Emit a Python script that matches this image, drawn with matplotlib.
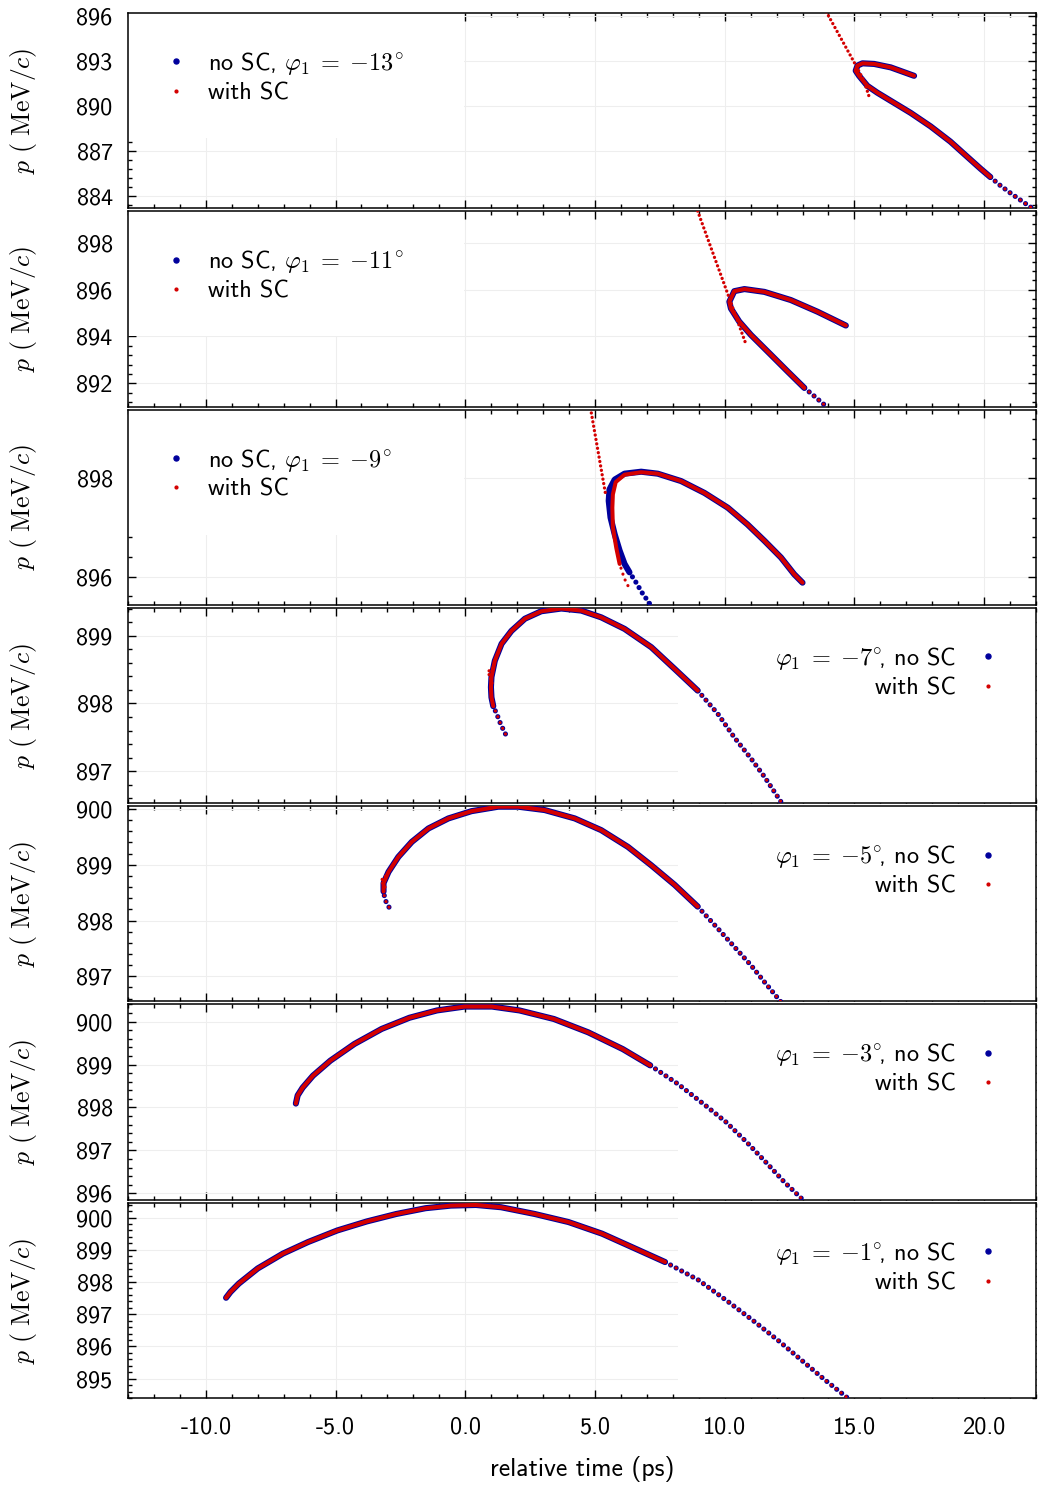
import numpy as np
import matplotlib.pyplot as plt
from matplotlib.ticker import FixedLocator, MultipleLocator, AutoMinorLocator, FormatStrFormatter
from matplotlib.lines import Line2D
from matplotlib.patches import Rectangle

plt.rcParams['font.family'] = 'cmss10'
plt.rcParams['mathtext.fontset'] = 'cm'
plt.rcParams['axes.unicode_minus'] = False
plt.rcParams['axes.formatter.use_mathtext'] = True

## DATA ##
# phase phi_1 (deg) of each run, top to bottom
phases = [-13, -11, -9, -7, -5, -3, -1]

# phi_1 = -13 deg
t_m13 = [17.30, 16.40, 15.76, 15.31, 15.12, 15.05, 15.18, 15.50, 15.88, 16.53, 17.17,
         17.94, 18.70, 19.35, 19.86, 20.24, 20.60, 21.01, 21.53, 21.91]
p_m13 = [892.02, 892.58, 892.81, 892.85, 892.70, 892.36, 892.02, 891.35, 890.90, 890.22, 889.55,
         888.65, 887.64, 886.63, 885.84, 885.28, 884.75, 884.22, 883.59, 883.14]
t_m13_sc_pre = [13.75, 14.99, 15.37, 15.56]
p_m13_sc_pre = [896.80, 892.92, 891.68, 890.67]

# phi_1 = -11 deg
t_m11 = [14.67, 13.58, 12.55, 11.53, 10.76, 10.37, 10.18, 10.24, 10.56, 11.01, 11.78,
         12.42, 13.07, 13.45, 13.90]
p_m11 = [894.47, 895.06, 895.56, 895.91, 896.03, 895.94, 895.49, 895.20, 894.64, 894.07, 893.22,
         892.51, 891.80, 891.45, 891.02]
t_m11_sc_pre = [8.90, 10.05, 10.81]
p_m11_sc_pre = [899.55, 896.03, 893.70]

# phi_1 = -9 deg
t_m9 = [7.10, 7.01, 6.81, 6.59, 6.33, 6.14, 5.95, 5.76, 5.60, 5.53, 5.56, 5.76, 6.14, 6.78,
        7.42, 8.32, 9.22, 10.12, 10.88, 11.53, 12.17, 12.68, 13.00]
p_m9 = [895.46, 895.53, 895.68, 895.88, 896.09, 896.26, 896.53, 896.86, 897.20, 897.54, 897.77,
        897.97, 898.09, 898.13, 898.09, 897.94, 897.70, 897.40, 897.06, 896.73, 896.39, 896.05, 895.88]
t_m9_sc = [6.27, 6.20, 6.08, 5.95, 5.82, 5.69, 5.67, 5.69, 5.80, 6.14, 6.78, 7.42, 8.32, 9.22,
           10.12, 10.88, 11.53, 12.17, 12.68, 13.00]
p_m9_sc = [895.82, 895.88, 896.05, 896.26, 896.59, 897.00, 897.40, 897.67, 897.92, 898.07, 898.12,
           898.09, 897.94, 897.70, 897.40, 897.06, 896.73, 896.39, 896.05, 895.88]
t_m9_sc_pre = [4.80, 5.40]
p_m9_sc_pre = [899.50, 897.70]

# phi_1 = -7 deg
t_m7 = [1.55, 1.37, 1.24, 1.08, 1.01, 0.99, 1.01, 1.14, 1.40, 1.78, 2.30, 2.93, 3.70, 4.47,
        5.24, 6.14, 7.17, 8.07, 8.96, 9.73, 10.37, 11.01, 11.53, 12.17]
p_m7 = [897.55, 897.69, 897.82, 897.96, 898.09, 898.24, 898.39, 898.63, 898.88, 899.07, 899.25,
        899.36, 899.40, 899.37, 899.27, 899.10, 898.83, 898.51, 898.19, 897.85, 897.50, 897.19,
        896.92, 896.55]
t_m7_sc_pre = [1.03, 0.88, 1.06]
p_m7_sc_pre = [898.30, 898.47, 898.52]

# phi_1 = -5 deg
t_m5 = [-2.94, -3.09, -3.15, -3.15, -2.96, -2.58, -2.06, -1.42, -0.65, 0.24, 1.27, 2.04, 3.06,
        4.22, 5.24, 6.27, 7.17, 8.07, 8.96, 9.73, 10.37, 11.01, 11.53, 12.17]
p_m5 = [898.24, 898.37, 898.52, 898.67, 898.87, 899.14, 899.41, 899.65, 899.83, 899.96, 900.04,
        900.04, 899.98, 899.83, 899.62, 899.32, 898.99, 898.64, 898.25, 897.86, 897.53, 897.20,
        896.90, 896.54]
t_m5_sc_pre = [-3.10, -3.24, -3.06]
p_m5_sc_pre = [898.60, 898.72, 898.80]

# phi_1 = -3 deg
t_m3 = [-6.53, -6.46, -6.27, -5.87, -5.20, -4.27, -3.22, -2.15, -1.09, -0.03, 1.03, 2.09, 3.42,
        4.74, 6.07, 7.13, 8.19, 9.25, 10.05, 10.85, 11.64, 12.30, 13.03]
p_m3 = [898.09, 898.28, 898.46, 898.74, 899.09, 899.48, 899.83, 900.09, 900.26, 900.35, 900.35,
        900.26, 900.06, 899.75, 899.36, 898.98, 898.55, 898.05, 897.66, 897.19, 896.69, 896.26, 895.84]

# phi_1 = -1 deg
t_m1 = [-9.22, -9.05, -8.73, -8.00, -7.03, -6.06, -4.93, -3.79, -2.66, -1.53, -0.56, 0.41, 1.38,
        2.68, 3.98, 5.27, 6.57, 7.70, 8.99, 10.13, 11.10, 12.07, 13.04, 13.85, 14.74]
p_m1 = [897.51, 897.69, 897.95, 898.42, 898.88, 899.24, 899.60, 899.88, 900.11, 900.29, 900.37,
        900.39, 900.32, 900.11, 899.86, 899.50, 899.03, 898.62, 898.06, 897.39, 896.80, 896.18,
        895.52, 894.97, 894.40]

yticks = [[884, 887, 890, 893, 896],
          [892, 894, 896, 898],
          [896, 898],
          [897, 898, 899],
          [897, 898, 899, 900],
          [896, 897, 898, 899, 900],
          [895, 896, 897, 898, 899, 900]]
ylims = [(883.2, 896.2), (891.0, 899.36), (895.43, 899.39), (896.53, 899.41),
         (896.55, 900.05), (895.85, 900.4), (894.4, 900.46)]
xticks = [-10, -5, 0, 5, 10, 15, 20]

# (no SC curve, with SC curve, extra with-SC piece, sparse head/tail index, key side)
runs = [
    ((t_m13, p_m13), (t_m13, p_m13), (t_m13_sc_pre, p_m13_sc_pre), (0, 15), 'left'),
    ((t_m11, p_m11), (t_m11, p_m11), (t_m11_sc_pre, p_m11_sc_pre), (0, 12), 'left'),
    ((t_m9, p_m9), (t_m9_sc, p_m9_sc), (t_m9_sc_pre, p_m9_sc_pre), (4, None), 'left'),
    ((t_m7, p_m7), (t_m7, p_m7), (t_m7_sc_pre, p_m7_sc_pre), (3, 18), 'right'),
    ((t_m5, p_m5), (t_m5, p_m5), (t_m5_sc_pre, p_m5_sc_pre), (2, 18), 'right'),
    ((t_m3, p_m3), (t_m3, p_m3), None, (0, 15), 'right'),
    ((t_m1, p_m1), (t_m1, p_m1), None, (0, 17), 'right'),
]

BLUE = '#00009c'
RED = '#d40000'
FS = 17.5


def dots(lw, gap_pt):
    return (0, (0.01, gap_pt / lw))


def draw_curve(ax, t, p, head, tail, color, lw, dot_lw, z):
    t = np.asarray(t)
    p = np.asarray(p)
    n = len(t)
    i0 = head
    i1 = n - 1 if tail is None else tail
    ax.plot(t[i0:i1 + 1], p[i0:i1 + 1], color=color, lw=lw, solid_capstyle='round',
            solid_joinstyle='round', zorder=z)
    for a, b in ((0, i0), (i1, n - 1)):
        if b > a:
            ax.plot(t[a:b + 1], p[a:b + 1], color=color, lw=dot_lw, ls=dots(dot_lw, 4.5),
                    dash_capstyle='round', zorder=z)


## PLOT ##
W, H = 1038, 1490
fig = plt.figure(figsize=(W / 100, H / 100), dpi=100)
left_px, right_px, top_px, bot_px, gap_px = 128, 1036, 13, 1398, 3
h_px = (bot_px - top_px - 6 * gap_px) / 7.0

axes = []
for i, (nosc, sc, extra, (head, tail), side) in enumerate(runs):
    top = top_px + i * (h_px + gap_px)
    ax = fig.add_axes([left_px / W, 1 - (top + h_px) / H, (right_px - left_px) / W, h_px / H])
    axes.append(ax)

    draw_curve(ax, nosc[0], nosc[1], head, tail, BLUE, 4.4, 3.7, 3)
    draw_curve(ax, sc[0], sc[1], min(head, 3) if sc is not nosc else head, tail, RED, 2.9, 2.3, 4)
    if extra is not None:
        ax.plot(extra[0], extra[1], color=RED, lw=2.4, ls=dots(2.4, 3.2),
                dash_capstyle='round', zorder=4)

    ax.set_xlim(-13, 22)
    ax.set_ylim(*ylims[i])
    ax.xaxis.set_major_locator(FixedLocator(xticks))
    ax.xaxis.set_minor_locator(MultipleLocator(1))
    ax.xaxis.set_major_formatter(FormatStrFormatter('%.1f'))
    ax.yaxis.set_major_locator(FixedLocator(yticks[i]))
    ax.yaxis.set_minor_locator(AutoMinorLocator(5))
    ax.yaxis.set_major_formatter(FormatStrFormatter('%d'))
    ax.tick_params(which='both', direction='in', top=True, right=True, width=1.0,
                   labelsize=FS, labelbottom=(i == 6))
    ax.tick_params(which='major', length=6)
    ax.tick_params(which='minor', length=3)
    ax.tick_params(axis='y', pad=11)
    ax.tick_params(axis='x', pad=13)
    for s in ax.spines.values():
        s.set_linewidth(1.1)
    ax.set_axisbelow(True)
    ax.grid(True, which='major', color='#eeeeee', lw=0.8)

    ax.set_ylabel(r'$p\ (\ \mathrm{MeV}/c)$', fontsize=18.5)
    ax.yaxis.set_label_coords(-89 / 908, 0.5)

    handles = [Line2D([], [], ls='none', marker='o', ms=3.6, color=BLUE),
               Line2D([], [], ls='none', marker='o', ms=2.0, color=RED)]
    phi = r'\varphi_1 \;=\; {{{}}}^{{\!\circ}}'.format(phases[i])
    key = dict(frameon=False, fontsize=FS, handlelength=0.9, handletextpad=0.87,
               borderpad=0.4, borderaxespad=1.12, labelspacing=0.22)
    if side == 'left':
        ax.add_patch(Rectangle((0, 0.36), 0.37, 0.64, transform=ax.transAxes,
                               color='white', lw=0, zorder=1))
        leg = ax.legend(handles, ['no SC, $' + phi + '$', 'with SC'], loc='upper left', **key)
    else:
        ax.add_patch(Rectangle((0.606, 0), 0.394, 1, transform=ax.transAxes,
                               color='white', lw=0, zorder=1))
        leg = ax.legend(handles, ['$' + phi + r'\!\!$, no SC', 'with SC'], loc='upper right',
                        markerfirst=False, **key)
    leg.set_zorder(5)

axes[-1].set_xlabel('relative time (ps)', fontsize=18.5, labelpad=13)

fig.savefig('out.png', dpi=100)
